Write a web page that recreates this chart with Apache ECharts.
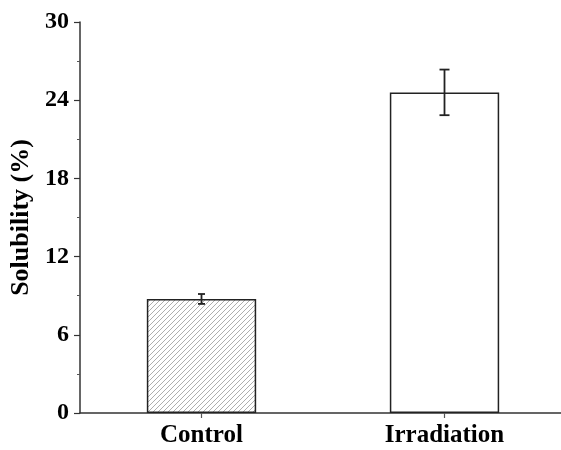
<!DOCTYPE html>
<html><head><meta charset="utf-8">
<script src="https://cdn.jsdelivr.net/npm/echarts@6/dist/echarts.min.js"></script>
<style>html,body{margin:0;padding:0;background:#fff}#c{width:561px;height:450px}</style>
</head><body><div id="c"></div>
<script>
const categories = ['Control', 'Irradiation'];
const values = [8.75, 24.6];
const errors = [0.38, 1.75];
const yTicks = [0, 6, 12, 18, 24, 30];

const pc = document.createElement('canvas');
pc.width = 5; pc.height = 5;
const g = pc.getContext('2d');
g.fillStyle = '#fff'; g.fillRect(0,0,5,5);
g.strokeStyle = '#999'; g.lineWidth = 0.8;
g.beginPath();
g.moveTo(0,5); g.lineTo(5,0);
g.moveTo(-2.5,2.5); g.lineTo(2.5,-2.5);
g.moveTo(2.5,7.5); g.lineTo(7.5,2.5);
g.stroke();

const font = '"Liberation Serif", "Times New Roman", serif';
const chart = echarts.init(document.getElementById('c'));
chart.setOption({
  animation: false,
  grid: { left: 80, top: 22, width: 486, height: 391, containLabel: false, outerBoundsMode: 'none' },
  xAxis: {
    type: 'category', data: categories,
    axisLine: { lineStyle: { color: '#333', width: 1.5 } },
    axisTick: { show: true, alignWithLabel: true, length: 5, lineStyle: { color: '#555', width: 1.2 }, interval: 0 },
    axisLabel: { color: '#000', fontFamily: font, fontWeight: 'bold', fontSize: 25, margin: 10 }
  },
  yAxis: {
    type: 'value', min: 0, max: 30, interval: 6,
    name: 'Solubility (%)', nameLocation: 'middle', nameGap: 43,
    nameTextStyle: { color: '#000', fontFamily: font, fontWeight: 'bold', fontSize: 26 },
    axisLine: { show: true, lineStyle: { color: '#333', width: 1.5 } },
    axisTick: { show: true, length: 6, lineStyle: { color: '#333', width: 1.2 } },
    minorTick: { show: true, splitNumber: 2, length: 3, lineStyle: { color: '#555', width: 1 } },
    splitLine: { show: false },
    axisLabel: { color: '#000', fontFamily: font, fontWeight: 'bold', fontSize: 24, margin: 11,
      formatter: v => yTicks.includes(v) ? String(v) : '' }
  },
  series: [
    {
      type: 'bar', barWidth: '45%',
      data: values.map((v, i) => ({
        value: v,
        itemStyle: i === 0
          ? { color: { image: pc, repeat: 'repeat' }, borderColor: '#222', borderWidth: 1.5 }
          : { color: '#fff', borderColor: '#222', borderWidth: 1.5 }
      }))
    },
    {
      type: 'custom',
      data: values.map((v, i) => [i, v - errors[i], v + errors[i]]),
      renderItem: (params, api) => {
        const lo = api.coord([api.value(0), api.value(1)]);
        const hi = api.coord([api.value(0), api.value(2)]);
        const hw = params.dataIndex === 0 ? 3.5 : 5;
        const st = { stroke: '#222', lineWidth: 1.8 };
        return { type: 'group', children: [
          { type: 'line', shape: { x1: lo[0], y1: lo[1], x2: hi[0], y2: hi[1] }, style: st },
          { type: 'line', shape: { x1: hi[0]-hw, y1: hi[1], x2: hi[0]+hw, y2: hi[1] }, style: st },
          { type: 'line', shape: { x1: lo[0]-hw, y1: lo[1], x2: lo[0]+hw, y2: lo[1] }, style: st }
        ]};
      },
      z: 5
    }
  ]
});
</script></body></html>
